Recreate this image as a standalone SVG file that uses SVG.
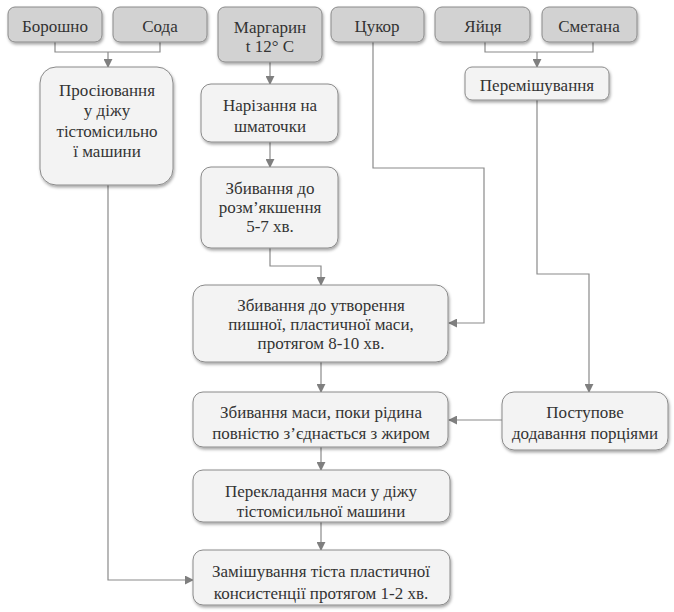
<svg xmlns="http://www.w3.org/2000/svg" width="674" height="612" viewBox="0 0 674 612">
<defs>
<filter id="sh" x="-10%" y="-10%" width="125%" height="140%">
<feDropShadow dx="1" dy="2" stdDeviation="1.5" flood-color="#000" flood-opacity="0.35"/>
</filter>
<marker id="ar" viewBox="0 0 10 10" refX="9" refY="5" markerWidth="9" markerHeight="9" markerUnits="userSpaceOnUse" orient="auto">
<path d="M0,0 L10,5 L0,10 z" fill="#7f7f7f"/>
</marker>
<style>
.g rect{fill:#d2d2d2;stroke:#8a8a8a;stroke-width:1;filter:url(#sh)}
.l rect{fill:#f3f3f3;stroke:#8a8a8a;stroke-width:1;filter:url(#sh)}
text{font-size:17px;fill:#333;text-anchor:middle}
.c path{fill:none;stroke:#8a8a8a;stroke-width:1.2}
.a{marker-end:url(#ar)}
</style>
</defs>
<rect width="674" height="612" fill="#fff"/>
<g class="c">
<path d="M55,42 V52 H160 V42"/>
<path class="a" d="M108,52 V67"/>
<path class="a" d="M270,62 V84"/>
<path class="a" d="M270,142 V167"/>
<path class="a" d="M270,248 V266 H321 V285"/>
<path class="a" d="M373,42 V168 H484 V323 H449"/>
<path class="a" d="M321,362 V392"/>
<path d="M485,42 V52 H593 V42"/>
<path class="a" d="M537,52 V67"/>
<path class="a" d="M537,100 V274 H589 V392"/>
<path class="a" d="M502,420 H449"/>
<path class="a" d="M321,447 V470"/>
<path class="a" d="M321,522 V550"/>
<path class="a" d="M108,185 V580 H193"/>
</g>
<g font-family="'Liberation Serif', 'DejaVu Serif', serif">
<g id="boroshno" class="g"><rect x="8" y="7" width="94" height="35" rx="7"/><text x="55" y="32">Борошно</text></g>
<g id="soda" class="g"><rect x="113" y="7" width="94" height="35" rx="7"/><text x="160" y="32">Сода</text></g>
<g id="margaryn" class="g"><rect x="218" y="7" width="104" height="55" rx="7"/><text x="270" y="33">Маргарин</text><text x="270" y="52">t 12° C</text></g>
<g id="tsukor" class="g"><rect x="331" y="7" width="93" height="35" rx="7"/><text x="377" y="32">Цукор</text></g>
<g id="yaitsia" class="g"><rect x="435" y="7" width="95" height="35" rx="7"/><text x="483" y="32">Яйця</text></g>
<g id="smetana" class="g"><rect x="542" y="7" width="95" height="35" rx="7"/><text x="589" y="32">Сметана</text></g>
<g id="prosiyuvannia" class="l"><rect x="40" y="67" width="133" height="118" rx="16"/><text x="107" y="96">Просіювання</text><text x="107" y="116">у діжу</text><text x="107" y="137">тістомісильно</text><text x="107" y="157">ї машини</text></g>
<g id="narizannia" class="l"><rect x="201" y="84" width="137" height="58" rx="10"/><text x="270" y="111">Нарізання на</text><text x="270" y="132">шматочки</text></g>
<g id="zbyvannia1" class="l"><rect x="201" y="167" width="137" height="81" rx="10"/><text x="270" y="194">Збивання до</text><text x="270" y="213">розм’якшення</text><text x="270" y="232">5-7 хв.</text></g>
<g id="peremishuvannia" class="l"><rect x="465" y="67" width="144" height="33" rx="7"/><text x="537" y="91">Перемішування</text></g>
<g id="zbyvannia2" class="l"><rect x="193" y="285" width="255" height="77" rx="12"/><text x="321" y="311">Збивання до утворення</text><text x="321" y="330">пишної, пластичної маси,</text><text x="321" y="349">протягом 8-10 хв.</text></g>
<g id="zbyvannia3" class="l"><rect x="193" y="392" width="255" height="55" rx="10"/><text x="321" y="418">Збивання маси, поки рідина</text><text x="321" y="439">повністю з’єднається з жиром</text></g>
<g id="postupove" class="l"><rect x="502" y="392" width="166" height="58" rx="12"/><text x="585" y="418">Поступове</text><text x="585" y="439">додавання порціями</text></g>
<g id="perekladannia" class="l"><rect x="193" y="470" width="257" height="52" rx="10"/><text x="321" y="497">Перекладання маси у діжу</text><text x="321" y="517">тістомісильної машини</text></g>
<g id="zamishuvannia" class="l"><rect x="193" y="550" width="257" height="55" rx="10"/><text x="321" y="577">Замішування тіста пластичної</text><text x="321" y="599">консистенції протягом 1-2 хв.</text></g>
</g>
</svg>
